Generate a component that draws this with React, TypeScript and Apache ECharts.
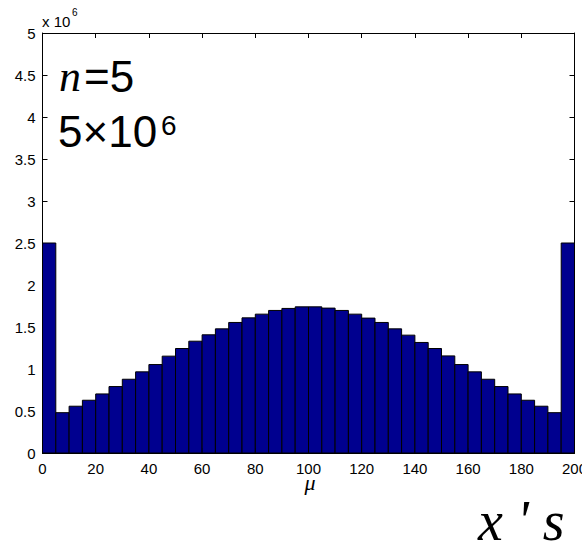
import React, { useEffect, useRef } from "react";
import * as echarts from "echarts";

// Histogram bins (width 5) from 0 to 200
const binEdges: number[] = [0, 5, 10, 15, 20, 25, 30, 35, 40, 45, 50, 55, 60, 65, 70, 75, 80, 85, 90, 95, 100, 105, 110, 115, 120, 125, 130, 135, 140, 145, 150, 155, 160, 165, 170, 175, 180, 185, 190, 195, 200];
// Counts per bin
const counts: number[] = [
  2500000, 480000, 557000, 628000, 703000, 791000, 878000, 966000, 1053000, 1153000,
  1244000, 1331000, 1407000, 1478000, 1554000, 1609000, 1653000, 1697000, 1721000, 1740000,
  1740000, 1725000, 1697000, 1653000, 1606000, 1554000, 1478000, 1403000, 1316000, 1244000,
  1156000, 1053000, 966000, 878000, 791000, 703000, 628000, 557000, 480000, 2500000,
];
const xTicks: number[] = [0, 20, 40, 60, 80, 100, 120, 140, 160, 180, 200];
const yTicks: number[] = [0, 0.5, 1, 1.5, 2, 2.5, 3, 3.5, 4, 4.5, 5];
const yScale = 1e6;

const SANS = "'Liberation Sans', Arial, sans-serif";
const SERIF = "'Liberation Serif', 'Times New Roman', serif";

export default function App() {
  const ref = useRef<HTMLDivElement>(null);
  useEffect(() => {
    if (!ref.current) return;
    const chart = echarts.init(ref.current, null, { renderer: "svg" });
    const data = counts.map((c, i) => [binEdges[i], binEdges[i + 1], c]);
    const xMin = xTicks[0];
    const xMax = xTicks[xTicks.length - 1];
    const xInt = xTicks[1] - xTicks[0];
    const yMin = yTicks[0] * yScale;
    const yMax = yTicks[yTicks.length - 1] * yScale;
    const yInt = (yTicks[1] - yTicks[0]) * yScale;
    const axisCommon = {
      type: "value" as const,
      axisLine: { show: true, onZero: false, lineStyle: { color: "#000", width: 1 } },
      axisTick: { show: true, inside: true, length: 5, lineStyle: { color: "#000", width: 1 } },
      splitLine: { show: false },
    };
    const labelStyle = { color: "#000", fontSize: 15, fontFamily: SANS };
    chart.setOption({
      animation: false,
      backgroundColor: "#fff",
      grid: { left: 42.5, top: 33, width: 532, height: 420, containLabel: false, outerBoundsMode: "none" },
      xAxis: [
        {
          ...axisCommon,
          position: "bottom",
          min: xMin,
          max: xMax,
          interval: xInt,
          axisLabel: { ...labelStyle, margin: 8 },
        },
        {
          ...axisCommon,
          position: "top",
          min: xMin,
          max: xMax,
          interval: xInt,
          axisLabel: { show: false },
        },
      ],
      yAxis: [
        {
          ...axisCommon,
          position: "left",
          min: yMin,
          max: yMax,
          interval: yInt,
          axisLabel: { ...labelStyle, margin: 7, formatter: (v: number) => String(Math.round((v / yScale) * 10) / 10) },
        },
        {
          ...axisCommon,
          position: "right",
          min: yMin,
          max: yMax,
          interval: yInt,
          axisLabel: { show: false },
        },
      ],
      series: [
        {
          type: "custom",
          xAxisIndex: 0,
          yAxisIndex: 0,
          encode: { x: [0, 1], y: 2 },
          data,
          renderItem: (params: any, api: any) => {
            const p0 = api.coord([api.value(0), api.value(2)]);
            const p1 = api.coord([api.value(1), 0]);
            return {
              type: "rect",
              shape: { x: p0[0], y: p0[1], width: p1[0] - p0[0], height: p1[1] - p0[1] },
              style: { fill: "#00008F", stroke: "#000", lineWidth: 1 },
            };
          },
        },
      ],
      graphic: [
        { type: "text", x: 42, y: 21, style: { text: "x 10", font: `15px ${SANS}`, fill: "#000", verticalAlign: "middle" } },
        { type: "text", x: 72, y: 12, style: { text: "6", font: `10px ${SANS}`, fill: "#000", verticalAlign: "middle" } },
        { type: "text", x: 59, y: 76, style: { text: "n", font: `italic 44px ${SERIF}`, fill: "#000", verticalAlign: "middle" } },
        { type: "text", x: 84, y: 76, style: { text: "=5", font: `44px ${SANS}`, fill: "#000", verticalAlign: "middle" } },
        { type: "text", x: 58, y: 131.5, style: { text: "5×10", font: `44px ${SANS}`, fill: "#000", verticalAlign: "middle" } },
        { type: "text", x: 161, y: 125, style: { text: "6", font: `28px ${SANS}`, fill: "#000", verticalAlign: "middle" } },
        { type: "text", x: 310, y: 482, style: { text: "μ", font: `italic 22px ${SERIF}`, lineHeight: 12, fill: "#000", align: "center", verticalAlign: "middle" } },
        { type: "text", x: 478, y: 521, style: { text: "x ' s", font: `italic 56px ${SERIF}`, lineHeight: 36, fill: "#000", verticalAlign: "middle" } },
      ],
    });
    return () => chart.dispose();
  }, []);
  return <div ref={ref} style={{ position: "fixed", left: 0, top: 0, width: 582, height: 543 }} />;
}
